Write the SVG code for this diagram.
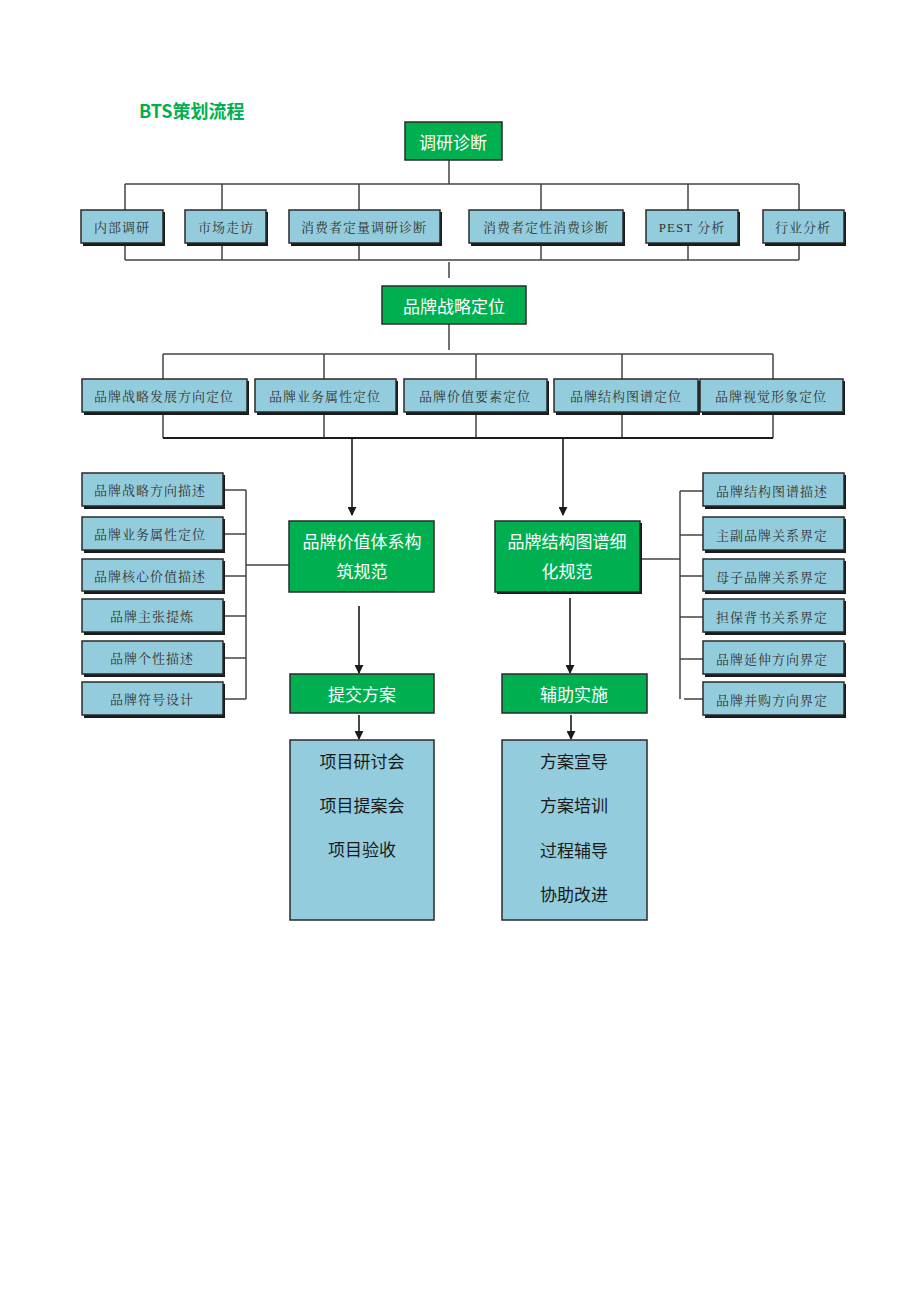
<svg xmlns="http://www.w3.org/2000/svg" width="920" height="1302" viewBox="0 0 920 1302">
<defs>
<style>
.g{fill:#00B050;stroke:#2a2a2a;stroke-width:1.5}
.b{fill:#93CDDD;stroke:#2a2a2a;stroke-width:1.5}
.sh{fill:#1a1a1a}
.gt{font-family:"Noto Sans CJK SC","Noto Sans",sans-serif;font-size:17px;fill:#ffffff;text-anchor:middle;dominant-baseline:central}
.bt{font-family:"Liberation Serif","Noto Serif CJK SC","Noto Sans CJK SC",serif;font-size:13px;fill:#333333;text-anchor:middle;dominant-baseline:central;letter-spacing:1px}
.lt{font-family:"Noto Sans CJK SC","Noto Sans",sans-serif;font-size:17px;fill:#1a1a1a;text-anchor:middle;dominant-baseline:central}
.c{fill:none;stroke:#444;stroke-width:1.5}
.a{fill:none;stroke:#1a1a1a;stroke-width:1.6;marker-end:url(#arr)}
</style>
<marker id="arr" viewBox="0 0 10 10" refX="9" refY="5" markerWidth="9" markerHeight="9" markerUnits="userSpaceOnUse" orient="auto">
<path d="M0,0 L10,5 L0,10 z" fill="#1a1a1a"/>
</marker>
</defs>
<rect width="920" height="1302" fill="#ffffff"/>
<text x="139" y="110" font-family="'Noto Sans CJK SC','Noto Sans',sans-serif" font-size="18" font-weight="bold" fill="#00B050" dominant-baseline="central">BTS策划流程</text>

<g id="connectors">
<path class="c" d="M449,160 V184 M125,184 H799 M125,184 V210 M222,184 V210 M359,184 V210 M541,184 V210 M688,184 V210 M799,184 V210"/>
<path class="c" d="M125,244 V260 M222,244 V260 M359,244 V260 M541,244 V260 M688,244 V260 M799,244 V260 M125,260 H799 M449,262 V278"/>
<path class="c" d="M449,324 V350 M163,354 H773 M163,354 V379 M324,354 V379 M476,354 V379 M622,354 V379 M773,354 V379"/>
<path class="c" d="M163,413 V438 M324,413 V438 M476,413 V438 M622,413 V438 M773,413 V438"/>
<path d="M163,438 H773" stroke="#1a1a1a" stroke-width="2.2" fill="none"/>
<path class="a" d="M352,438 V515"/>
<path class="a" d="M563,438 V515"/>
<path class="c" d="M223,490 H246 M223,534 H246 M223,576 H246 M223,616 H246 M223,658 H246 M223,699 H246 M246,490 V699 M246,565 H289"/>
<path class="c" d="M680,491 H703 M680,535 H703 M680,576 H703 M680,617 H703 M680,659 H703 M684,699 H703 M680,491 V699 M640,559 H680"/>
<path class="a" d="M359,606 V673"/>
<path class="a" d="M570,598 V673"/>
<path class="a" d="M359,715 V739"/>
<path class="a" d="M571,715 V739"/>
</g>

<g id="n-diag"><rect class="g" x="405" y="122" width="97" height="38"/><text class="gt" x="453" y="141">调研诊断</text></g>

<g id="n-r1-1"><rect class="sh" x="83" y="212" width="82" height="34"/><rect class="b" x="81" y="210" width="82" height="33"/><text class="bt" x="122" y="227">内部调研</text></g>
<g id="n-r1-2"><rect class="sh" x="187" y="212" width="81" height="34"/><rect class="b" x="185" y="210" width="81" height="33"/><text class="bt" x="226" y="227">市场走访</text></g>
<g id="n-r1-3"><rect class="sh" x="291" y="212" width="151" height="34"/><rect class="b" x="289" y="210" width="151" height="33"/><text class="bt" x="364" y="227">消费者定量调研诊断</text></g>
<g id="n-r1-4"><rect class="sh" x="471" y="212" width="154" height="34"/><rect class="b" x="469" y="210" width="154" height="33"/><text class="bt" x="546" y="227">消费者定性消费诊断</text></g>
<g id="n-r1-5"><rect class="sh" x="648" y="212" width="92" height="34"/><rect class="b" x="646" y="210" width="92" height="33"/><text class="bt" x="692" y="227">PEST 分析</text></g>
<g id="n-r1-6"><rect class="sh" x="765" y="212" width="81" height="34"/><rect class="b" x="763" y="210" width="81" height="33"/><text class="bt" x="803" y="227">行业分析</text></g>

<g id="n-strat"><rect class="g" x="382" y="286" width="144" height="38"/><text class="gt" x="454" y="305">品牌战略定位</text></g>

<g id="n-r2-1"><rect class="sh" x="84" y="381" width="165" height="34"/><rect class="b" x="82" y="379" width="165" height="33"/><text class="bt" x="164" y="396">品牌战略发展方向定位</text></g>
<g id="n-r2-2"><rect class="sh" x="257" y="381" width="141" height="34"/><rect class="b" x="255" y="379" width="141" height="33"/><text class="bt" x="325" y="396">品牌业务属性定位</text></g>
<g id="n-r2-3"><rect class="sh" x="406" y="381" width="143" height="34"/><rect class="b" x="404" y="379" width="143" height="33"/><text class="bt" x="475" y="396">品牌价值要素定位</text></g>
<g id="n-r2-4"><rect class="sh" x="556" y="381" width="144" height="34"/><rect class="b" x="554" y="379" width="144" height="33"/><text class="bt" x="626" y="396">品牌结构图谱定位</text></g>
<g id="n-r2-5"><rect class="sh" x="702" y="381" width="143" height="34"/><rect class="b" x="700" y="379" width="143" height="33"/><text class="bt" x="771" y="396">品牌视觉形象定位</text></g>

<g id="n-value"><rect class="g" x="289" y="521" width="145" height="71"/><text class="gt" x="362" y="540">品牌价值体系构</text><text class="gt" x="362" y="570">筑规范</text></g>
<g id="n-struct"><rect class="sh" x="497" y="523" width="145" height="71"/><rect class="g" x="495" y="521" width="145" height="71"/><text class="gt" x="567" y="540">品牌结构图谱细</text><text class="gt" x="567" y="570">化规范</text></g>

<g id="n-l1"><rect class="sh" x="84" y="475" width="141" height="34"/><rect class="b" x="82" y="473" width="141" height="33"/><text class="bt" x="150" y="490">品牌战略方向描述</text></g>
<g id="n-l2"><rect class="sh" x="84" y="519" width="141" height="34"/><rect class="b" x="82" y="517" width="141" height="33"/><text class="bt" x="150" y="534">品牌业务属性定位</text></g>
<g id="n-l3"><rect class="sh" x="84" y="561" width="141" height="33"/><rect class="b" x="82" y="559" width="141" height="32"/><text class="bt" x="150" y="576">品牌核心价值描述</text></g>
<g id="n-l4"><rect class="sh" x="84" y="601" width="141" height="34"/><rect class="b" x="82" y="599" width="141" height="33"/><text class="bt" x="152" y="616">品牌主张提炼</text></g>
<g id="n-l5"><rect class="sh" x="84" y="643" width="141" height="34"/><rect class="b" x="82" y="641" width="141" height="33"/><text class="bt" x="152" y="658">品牌个性描述</text></g>
<g id="n-l6"><rect class="sh" x="84" y="684" width="141" height="34"/><rect class="b" x="82" y="682" width="141" height="33"/><text class="bt" x="152" y="699">品牌符号设计</text></g>

<g id="n-r1"><rect class="sh" x="705" y="475" width="141" height="34"/><rect class="b" x="703" y="473" width="141" height="33"/><text class="bt" x="772" y="491">品牌结构图谱描述</text></g>
<g id="n-r2"><rect class="sh" x="705" y="519" width="141" height="34"/><rect class="b" x="703" y="517" width="141" height="33"/><text class="bt" x="772" y="535">主副品牌关系界定</text></g>
<g id="n-r3"><rect class="sh" x="705" y="561" width="141" height="33"/><rect class="b" x="703" y="559" width="141" height="32"/><text class="bt" x="772" y="577">母子品牌关系界定</text></g>
<g id="n-r4"><rect class="sh" x="705" y="601" width="141" height="34"/><rect class="b" x="703" y="599" width="141" height="33"/><text class="bt" x="772" y="617">担保背书关系界定</text></g>
<g id="n-r5"><rect class="sh" x="705" y="643" width="141" height="34"/><rect class="b" x="703" y="641" width="141" height="33"/><text class="bt" x="772" y="659">品牌延伸方向界定</text></g>
<g id="n-r6"><rect class="sh" x="705" y="684" width="141" height="34"/><rect class="b" x="703" y="682" width="141" height="33"/><text class="bt" x="772" y="700">品牌并购方向界定</text></g>

<g id="n-submit"><rect class="g" x="290" y="674" width="144" height="39"/><text class="gt" x="362" y="693">提交方案</text></g>
<g id="n-assist"><rect class="g" x="502" y="674" width="145" height="39"/><text class="gt" x="574" y="693">辅助实施</text></g>

<g id="n-proj"><rect class="b" x="290" y="740" width="144" height="180"/><text class="lt" x="362" y="760">项目研讨会</text><text class="lt" x="362" y="804">项目提案会</text><text class="lt" x="362" y="848">项目验收</text></g>
<g id="n-impl"><rect class="b" x="502" y="740" width="145" height="180"/><text class="lt" x="574" y="760">方案宣导</text><text class="lt" x="574" y="804">方案培训</text><text class="lt" x="574" y="849">过程辅导</text><text class="lt" x="574" y="893">协助改进</text></g>
</svg>
